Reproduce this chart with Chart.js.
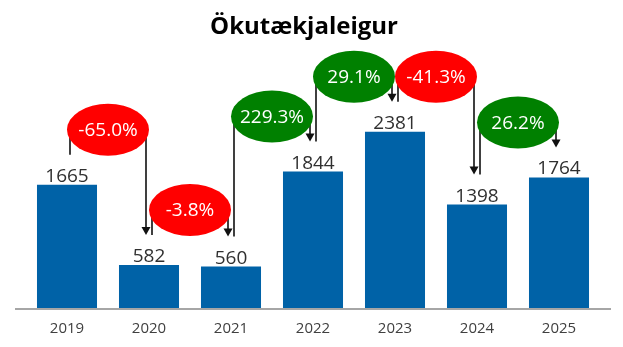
<!DOCTYPE html>
<html>
<head>
<meta charset="utf-8">
<script src="https://cdn.jsdelivr.net/npm/chart.js@4.4.1/dist/chart.umd.min.js"></script>
<style>
  html, body { margin: 0; padding: 0; background: #ffffff; }
  #wrap { width: 623px; height: 347px; }
</style>
</head>
<body>
<div id="wrap"><canvas id="c" width="623" height="347"></canvas></div>
<script>
// Number of vehicle rental companies per year
const years = ['2019', '2020', '2021', '2022', '2023', '2024', '2025'];
const rentals = [1665, 582, 560, 1844, 2381, 1398, 1764];
const chartTitle = 'Ökutækjaleigur';

const FONT = "'Open Sans', 'Noto Sans', sans-serif";

// Year-over-year change in percent, formatted like "-65.0%"
function changeLabel(i) {
  const pct = (rentals[i + 1] - rentals[i]) / rentals[i] * 100;
  return pct.toFixed(1) + '%';
}

const annotations = {
  id: 'annotations',
  afterDatasetsDraw(chart) {
    const ctx = chart.ctx;
    const area = chart.chartArea;
    const xScale = chart.scales.x;
    const bars = chart.getDatasetMeta(0).data;

    ctx.save();

    // baseline
    ctx.strokeStyle = '#a6a6a6';
    ctx.lineWidth = 2;
    ctx.beginPath();
    ctx.moveTo(area.left - 11, area.bottom + 1);
    ctx.lineTo(area.right + 11, area.bottom + 1);
    ctx.stroke();

    // category labels
    ctx.fillStyle = '#404040';
    ctx.font = '15px ' + FONT;
    ctx.textAlign = 'center';
    ctx.textBaseline = 'middle';
    years.forEach((y, i) => {
      ctx.fillText(y, xScale.getPixelForValue(i), area.bottom + 21);
    });

    // value labels
    ctx.fillStyle = '#303030';
    ctx.font = '19px ' + FONT;
    ctx.textBaseline = 'alphabetic';
    bars.forEach((b, i) => {
      ctx.fillText(String(rentals[i]), b.x, b.y - 3);
    });

    // change bubbles with connectors
    const rx = 41, ry = 26;
    for (let i = 0; i < bars.length - 1; i++) {
      const a = bars[i], b = bars[i + 1];
      const cx = (a.x + b.x) / 2;
      const cy = Math.min(a.y, b.y) - 55;
      const startY = a.y - 30;
      const tipY = b.y - 30;
      const lx = a.x + 3;
      const rxLeg = b.x - 3;

      ctx.strokeStyle = '#111111';
      ctx.lineWidth = 1.6;
      ctx.beginPath();
      ctx.moveTo(lx, startY);
      ctx.lineTo(lx, cy);
      ctx.moveTo(rxLeg, cy);
      ctx.lineTo(rxLeg, tipY - 6);
      ctx.stroke();

      ctx.fillStyle = '#111111';
      ctx.beginPath();
      ctx.moveTo(rxLeg, tipY);
      ctx.lineTo(rxLeg - 4.5, tipY - 8);
      ctx.lineTo(rxLeg + 4.5, tipY - 8);
      ctx.closePath();
      ctx.fill();

      const up = rentals[i + 1] >= rentals[i];
      ctx.fillStyle = up ? '#008000' : '#ff0000';
      ctx.beginPath();
      ctx.ellipse(cx, cy, rx, ry, 0, 0, Math.PI * 2);
      ctx.fill();

      ctx.fillStyle = '#ffffff';
      ctx.font = '19px ' + FONT;
      ctx.textBaseline = 'middle';
      ctx.fillText(changeLabel(i), cx, cy + 1);
      ctx.textBaseline = 'alphabetic';
    }

    // title
    ctx.fillStyle = '#000000';
    ctx.font = 'bold 24px ' + FONT;
    ctx.textAlign = 'center';
    ctx.textBaseline = 'middle';
    ctx.fillText(chartTitle, 304, 27);
    ctx.restore();
  }
};

new Chart(document.getElementById('c'), {
  type: 'bar',
  data: {
    labels: years,
    datasets: [{
      data: rentals,
      backgroundColor: '#0062a7',
      borderWidth: 0,
      categoryPercentage: 1,
      barPercentage: 0.732
    }]
  },
  options: {
    responsive: false,
    animation: false,
    layout: { padding: { top: 86, left: 26, right: 23, bottom: 39 } },
    plugins: {
      legend: { display: false },
      tooltip: { enabled: false },
      title: { display: false }
    },
    scales: {
      x: { display: false, offset: true },
      y: { display: false, min: 0, max: 3000 }
    }
  },
  plugins: [annotations]
});
</script>
</body>
</html>
